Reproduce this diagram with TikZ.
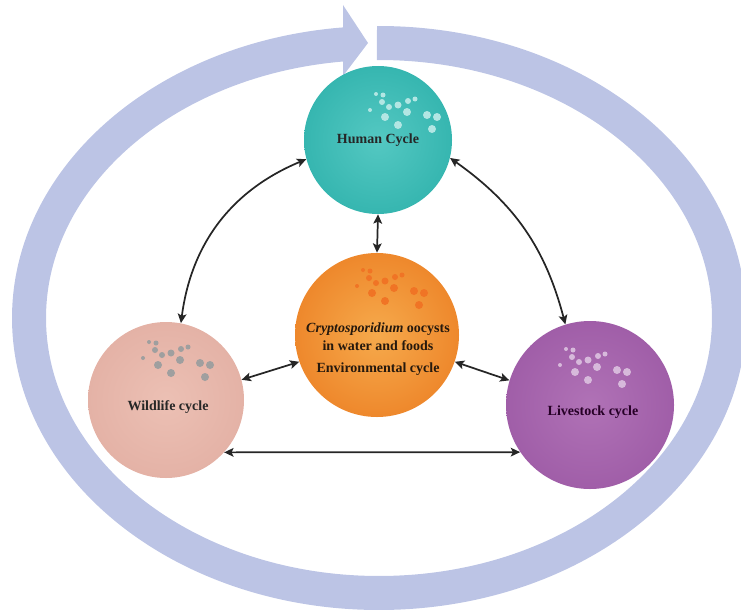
\documentclass[tikz,border=0pt]{standalone}
\usepackage{fontspec}
\setmainfont{Liberation Serif}
\usetikzlibrary{arrows.meta}

\definecolor{ringblue}{RGB}{188,196,229}
\definecolor{humanteal}{RGB}{54,182,176}
\definecolor{humanlight}{RGB}{84,200,194}
\definecolor{envorange}{RGB}{238,136,44}
\definecolor{envlight}{RGB}{246,170,76}
\definecolor{wildpink}{RGB}{228,178,166}
\definecolor{wildlight}{RGB}{236,192,180}
\definecolor{livepurple}{RGB}{160,94,168}
\definecolor{livelight}{RGB}{176,114,182}

% cluster of oocysts: x, y of the cluster corner, colour
\newcommand{\oocysts}[3]{%
  \foreach \dx/\dy/\r in {0/18/2,6/2/2,13/3/2.5,12/10/3,19/15/3,28/13/3.5,38/9/3,45/7/2.5,
                          37/20/4,15/25/4,28/33/4,57/23/4,67/25/4,62/37/4}
    \fill[#3] (#1+\dx,#2-\dy) circle[radius=\r];}

\begin{document}
\begin{tikzpicture}[x=0.75pt,y=0.75pt,
    cyclecircle/.style={circle, inner sep=0pt},
    cyclename/.style={font=\bfseries\fontsize{10.5}{13.5}\selectfont, align=center},
    link/.style={<->, line width=1.3pt, draw=black!85},
    >={Stealth[length=7pt,width=6.5pt,inset=1.5pt]}]
    \clip (0,0) rectangle (741,612);

    % big cycle arrow
    \draw[ringblue, line width=25.5pt] ({379+350*cos(90.33)},{294+275*sin(90.33)})
        arc[start angle=90.33, end angle=-265, x radius=350, y radius=275];
    \fill[ringblue] (343,607) -- (368,569) -- (343,536) -- cycle;

    \node[cyclecircle, minimum size=111pt, inner color=humanlight, outer color=humanteal] (human) at (378,472) {};
    \node[cyclecircle, minimum size=123pt, inner color=envlight, outer color=envorange] (env) at (377,277) {};
    \node[cyclecircle, minimum size=117pt, inner color=wildlight, outer color=wildpink] (wildlife) at (166,212) {};
    \node[cyclecircle, minimum size=126pt, inner color=livelight, outer color=livepurple] (livestock) at (590,207) {};

    \oocysts{370}{520}{white!55!humanlight}
    \oocysts{357}{344}{envorange!85!red}
    \oocysts{143}{272}{gray!75}
    \oocysts{560}{265}{livelight!50!white}

    \node[cyclename, text=black!85] at (378,472) {Human Cycle};
    \node[cyclename, text=black!80!brown] at (378,263) {\textit{Cryptosporidium} oocysts\\in water and foods\\[3pt]Environmental cycle};
    \node[cyclename, text=black!85] at (168,205) {Wildlife cycle};
    \node[cyclename, text=black!70!violet] at (593,200) {Livestock cycle};

    \draw[link] (wildlife.79) to[bend left=30] (human.195);
    \draw[link] (human.346) to[bend left=20] (livestock.107);
    \draw[link] (human.south) -- (env.north);
    \draw[link] (env.199) -- (wildlife.15);
    \draw[link] (env.341) -- (livestock.163);
    \draw[link] (wildlife.318) -- (livestock.214);
\end{tikzpicture}
\end{document}
